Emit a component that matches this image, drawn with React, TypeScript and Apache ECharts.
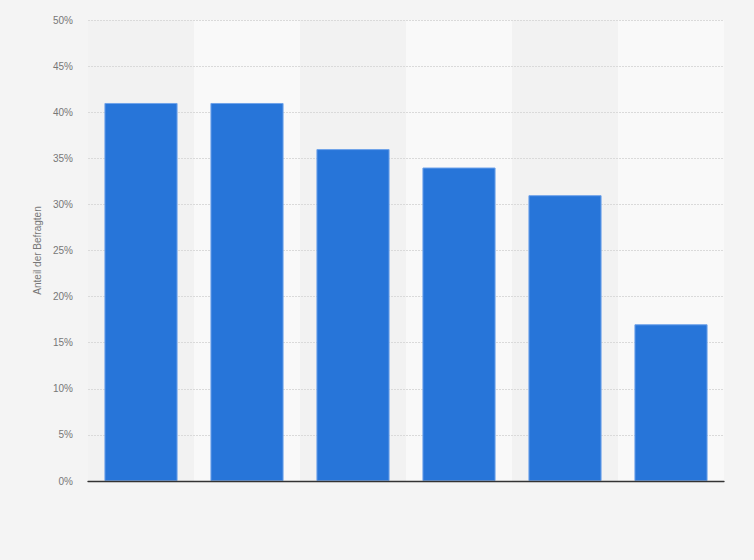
import React, { useEffect, useRef } from "react";
import * as echarts from "echarts";

const categories = ["Kategorie 1", "Kategorie 2", "Kategorie 3", "Kategorie 4", "Kategorie 5", "Kategorie 6"];
const values = [41, 41, 36, 34, 31, 17];
const yTicks = [0, 5, 10, 15, 20, 25, 30, 35, 40, 45, 50];
const yAxisName = "Anteil der Befragten";

export default function App() {
  const ref = useRef<HTMLDivElement>(null);
  useEffect(() => {
    if (!ref.current) return;
    const chart = echarts.init(ref.current, undefined, { renderer: "svg" });
    chart.setOption({
      animation: false,
      backgroundColor: "#f4f4f4",
      textStyle: { fontFamily: "Liberation Sans, Arial, sans-serif" },
      grid: { left: 88, right: 30, top: 20, bottom: 79, containLabel: false },
      xAxis: [
        {
          type: "category",
          data: categories,
          z: 0,
          axisLabel: { show: false },
          axisTick: { show: false },
          axisLine: { show: false },
          splitArea: { show: true, areaStyle: { color: ["#f2f2f2", "#f9f9f9"] } },
        },
        {
          type: "category",
          data: categories,
          position: "bottom",
          z: 5,
          axisLabel: { show: false },
          axisTick: { show: false },
          axisLine: { show: true, lineStyle: { color: "#333333", width: 1.3 } },
          splitArea: { show: false },
          splitLine: { show: false },
        },
      ],
      yAxis: {
        type: "value",
        min: yTicks[0],
        max: yTicks[yTicks.length - 1],
        interval: 5,
        z: 1,
        name: yAxisName,
        nameLocation: "middle",
        nameGap: 45,
        nameTextStyle: { color: "#777777", fontSize: 10 },
        axisLabel: { formatter: "{value}%", color: "#777777", fontSize: 10, margin: 15 },
        axisLine: { show: false },
        axisTick: { show: false },
        splitLine: { show: true, lineStyle: { color: "#dadada", type: [2, 1], width: 1 } },
      },
      series: [
        {
          type: "bar",
          data: values,
          xAxisIndex: 0,
          barWidth: "69%",
          z: 3,
          itemStyle: { color: "#2775d9", borderColor: "#6fa3ea", borderWidth: 1 },
        },
      ],
    });
    return () => chart.dispose();
  }, []);
  return <div ref={ref} style={{ width: 754, height: 560, position: "absolute", left: 0, top: 0 }} />;
}
